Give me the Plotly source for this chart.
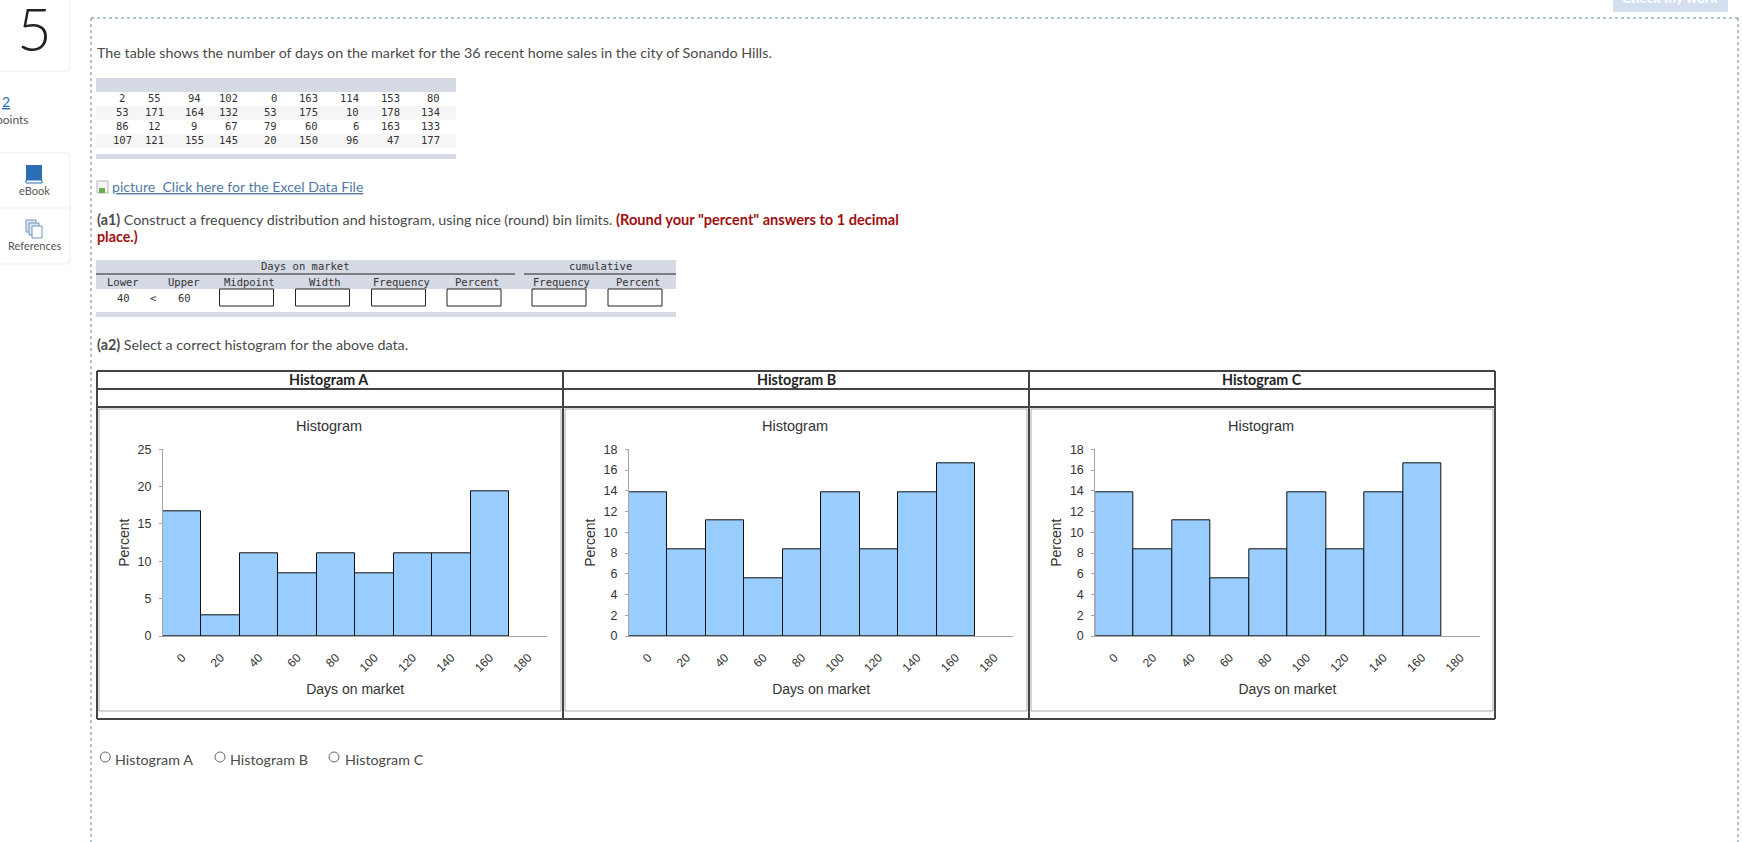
#!/usr/bin/env python3

import plotly.graph_objects as go

W = 1742
H = 842

# values
days_table = [
    [2, 55, 94, 102, 0, 163, 114, 153, 80],
    [53, 171, 164, 132, 53, 175, 10, 178, 134],
    [86, 12, 9, 67, 79, 60, 6, 163, 133],
    [107, 121, 155, 145, 20, 150, 96, 47, 177],
]
bin_labels = ['0', '20', '40', '60', '80', '100', '120', '140', '160', '180']
percent_a = [16.67, 2.78, 11.11, 8.33, 11.11, 8.33, 11.11, 11.11, 19.44, None]
percent_b = [13.89, 8.33, 11.11, 5.56, 8.33, 13.89, 8.33, 13.89, 16.67, None]
percent_c = [13.89, 8.33, 11.11, 5.56, 8.33, 13.89, 8.33, 13.89, 16.67, None]
y_max = [25, 18, 18]
y_step = [5, 2, 2]
table_names = ['Histogram A', 'Histogram B', 'Histogram C']
dist_head_1 = ['Days on market', 'cumulative']
dist_head_2 = ['Lower', 'Upper', 'Midpoint', 'Width', 'Frequency', 'Percent', 'Frequency', 'Percent']
dist_row = ['40', '<', '60']

BODY = 'Lato'
MONO = 'DejaVu Sans Mono'
CHART = 'Liberation Sans'
TEXT = '#4a4a4a'
BAND = '#d6dae5'
BAR = '#99ccff'
AXIS = '#a6a6a6'
DARK = '#444444'
DOT = '#5f8aa3'


def sx(px):
    return px / W


def sy(py):
    return 1 - py / H


shapes = []
annotations = []


def rect(x0, y0, x1, y1, fill='rgba(0,0,0,0)', line=None, width=1):
    shapes.append(dict(
        type='rect', xref='paper', yref='paper', layer='below',
        x0=sx(x0), x1=sx(x1), y0=sy(y0), y1=sy(y1),
        fillcolor=fill, line=dict(color=line or 'rgba(0,0,0,0)', width=width if line else 0),
    ))


def seg(x0, y0, x1, y1, color, width=1, dash='solid', layer='below'):
    shapes.append(dict(
        type='line', xref='paper', yref='paper', layer=layer,
        x0=sx(x0), x1=sx(x1), y0=sy(y0), y1=sy(y1),
        line=dict(color=color, width=width, dash=dash),
    ))


def text(x, y, s, size=14.3, color=TEXT, font=BODY, anchor='left', weight=None):
    annotations.append(dict(
        xref='paper', yref='paper', x=sx(x), y=sy(y), text=s, showarrow=False,
        xanchor=anchor, yanchor='middle', align=anchor,
        font=dict(family=font, size=size, color=color, weight=weight),
    ))


def card(y0, y1):
    # left side runs off the page, only the right corners show
    x1 = 70
    r = 4
    path = (f'M {sx(-6)} {sy(y0)} L {sx(x1 - r)} {sy(y0)} Q {sx(x1)} {sy(y0)} {sx(x1)} {sy(y0 + r)} '
            f'L {sx(x1)} {sy(y1 - r)} Q {sx(x1)} {sy(y1)} {sx(x1 - r)} {sy(y1)} L {sx(-6)} {sy(y1)} Z')
    shapes.append(dict(type='path', xref='paper', yref='paper', layer='below', path=path,
                       line=dict(color='#eeeeee', width=1)))


# left rail
card(-6, 71)
card(153, 264)
seg(0, 208, 70, 208, '#eeeeee')
text(34, 28, '5', size=60, color='#222222', anchor='center', weight=300)
text(0, 102, '<u>2</u>', size=14, color='#2a6db0', anchor='left')
text(-6, 119, 'points', size=12, color='#555555')
rect(26, 165, 42, 180, fill='#2c6db5')
rect(26, 180, 42, 183, fill='#ffffff', line='#2c6db5')
text(34, 191, 'eBook', size=11, color='#555555', anchor='center')
for off in [0, 3, 6]:
    rect(26 + off, 220 + off, 36 + off, 232 + off, fill='#ffffff' if off == 6 else '#dce6f2', line='#6f96bd')
text(34, 246, 'References', size=11, color='#555555', anchor='center')

# check my work button, cut by the top of the page
rect(1613, -4, 1728, 12, fill='#d3dfef')
text(1670, -2, '<b>Check my work</b>', size=14, color='#ffffff', anchor='center')

# dotted frame
seg(91, 18, 1738, 18, DOT, dash='dot')
seg(91, 18, 91, 842, DOT, dash='dot')
seg(1738, 18, 1738, 842, DOT, dash='dot')

text(95, 53, 'The table shows the number of days on the market for the 36 recent home sales in the city of Sonando Hills.')

# data table
rect(96, 78, 456, 92, fill=BAND)
rect(96, 106, 456, 120, fill='#f6f6f6')
rect(96, 134, 456, 148, fill='#f6f6f6')
rect(96, 154, 456, 159, fill=BAND)
col_x = [122, 154, 194, 240, 279, 320, 361, 402, 442]
col_anchor = ['center', 'center', 'center', 'right', 'right', 'right', 'right', 'right', 'right']
for row, y in zip(days_table, [98, 112, 126, 140]):
    for value, x, anchor in zip(row, col_x, col_anchor):
        text(x, y, str(value), size=10.5, color='#333333', font=MONO, anchor=anchor)

# excel link with the broken image icon
rect(97, 181, 108, 193, fill='#f4f4f4', line='#b5b5b5')
rect(99, 188, 105, 193, fill='#6fae4e')
text(110, 187, '<u>picture  Click here for the Excel Data File</u>', size=14.1, color='#4f7ba6')

text(95, 220, '<b>(a1)</b> Construct a frequency distribution and histogram, using nice (round) bin limits.')
text(614, 220, '<b>(Round your "percent" answers to 1 decimal</b>', size=14.6, color='#a01010')
text(95, 236, '<b>place.)</b>', color='#a01010')

# distribution table
rect(96, 260, 676, 289, fill=BAND)
rect(96, 312, 676, 317, fill=BAND)
seg(96, 274, 515, 274, '#222222')
seg(524, 274, 676, 274, '#222222')
for label, x in zip(dist_head_1, [305, 600]):
    text(x, 266, label, size=10.5, color='#333333', font=MONO, anchor='center')
for label, x in zip(dist_head_2, [123, 184, 249, 325, 401, 477, 561, 638]):
    text(x, 282, label, size=10.5, color='#333333', font=MONO, anchor='center')
for label, x in zip(dist_row, [123, 153, 184]):
    text(x, 298, label, size=10.5, color='#333333', font=MONO, anchor='center')
for x0 in [219.5, 295.5, 371.5, 447, 532, 608]:
    rect(x0, 289, x0 + 54, 306, fill='#ffffff', line='#222222')

text(95, 344, '<b>(a2)</b> Select a correct histogram for the above data.')

# outer table around the charts
for x in [97, 563, 1029, 1495]:
    seg(x, 371, x, 719, DARK, width=2)
for y in [371, 389, 407, 719]:
    seg(97, y, 1495, y, DARK, width=2)
for name, x in zip(table_names, [329, 796, 1262]):
    text(x, 379, f'<b>{name}</b>', size=14.3, color='#222222', anchor='center')
for x0, x1 in [(99, 561), (565, 1027), (1031, 1493)]:
    rect(x0, 409, x1, 711, line='#a9a9a9')

# radio buttons
for name, cx, lx in zip(table_names, [105.3, 220, 334], [112.7, 228, 342.7]):
    shapes.append(dict(type='circle', xref='paper', yref='paper', layer='below',
                       x0=sx(cx - 5), x1=sx(cx + 5), y0=sy(757 - 5), y1=sy(757 + 5),
                       line=dict(color='#666666', width=1)))
    text(lx, 759, name, color=TEXT)

fig = go.Figure()

plot_left = [163, 629, 1095.3]
plot_width = 384.4
plot_top = 449.3
plot_bottom = 636

for i, values in enumerate([percent_a, percent_b, percent_c]):
    suffix = '' if i == 0 else str(i + 1)
    fig.add_trace(go.Bar(
        x=bin_labels, y=values,
        xaxis=f'x{suffix}', yaxis=f'y{suffix}',
        width=1,
        marker=dict(color=BAR, line=dict(color='#111111', width=1)),
        showlegend=False,
    ))
    left = plot_left[i]
    fig.update_layout({
        f'xaxis{suffix}': dict(
            domain=[sx(left), sx(left + plot_width)],
            anchor=f'y{suffix}',
            type='category',
            range=[-0.5, 9.5],
            automargin=False,
            showgrid=False, zeroline=False,
            showline=True, linecolor=AXIS, linewidth=1,
            ticks='', tickangle=-45, ticklabelstandoff=9,
            tickfont=dict(family=CHART, size=12, color='#333333'),
            title=dict(text='Days on market', standoff=10,
                       font=dict(family=CHART, size=14, color='#333333')),
        ),
        f'yaxis{suffix}': dict(
            domain=[sy(plot_bottom), sy(plot_top)],
            anchor=f'x{suffix}',
            range=[0, y_max[i]], dtick=y_step[i],
            automargin=False,
            showgrid=False, zeroline=False,
            showline=True, linecolor=AXIS, linewidth=1,
            ticks='outside', ticklen=3, tickcolor=AXIS, ticklabelstandoff=5,
            tickfont=dict(family=CHART, size=12.5, color='#333333'),
            title=dict(text='Percent', standoff=4,
                       font=dict(family=CHART, size=14, color='#333333')),
        ),
    })
    text(left + 166, 426, 'Histogram', size=14.5, color='#333333', font=CHART, anchor='center')

fig.update_layout(
    width=W, height=H,
    margin=dict(l=0, r=0, t=0, b=0),
    paper_bgcolor='#ffffff', plot_bgcolor='rgba(0,0,0,0)',
    bargap=0,
    showlegend=False,
    shapes=shapes,
    annotations=annotations,
)

fig.write_html("out.html", config={'displayModeBar': False},
               post_script="document.body.style.margin='0';document.body.style.overflow='hidden';")
